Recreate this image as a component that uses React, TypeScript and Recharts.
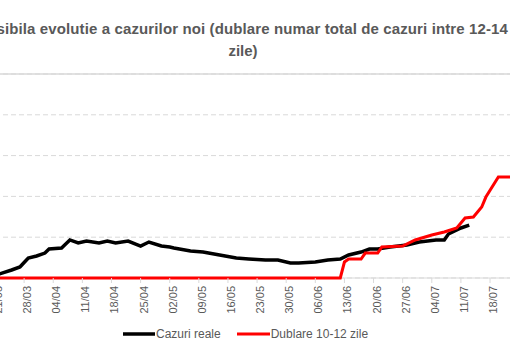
import { LineChart, Line, XAxis, YAxis, CartesianGrid, ReferenceLine } from 'recharts'

// day 0 = 21/03
const tickDays = [0, 7, 14, 21, 28, 35, 42, 49, 56, 63, 70, 77, 84, 91, 98, 105, 112, 119]
const tickLabels = [
  '21/03', '28/03', '04/04', '11/04', '18/04', '25/04', '02/05', '09/05', '16/05',
  '23/05', '30/05', '06/06', '13/06', '20/06', '27/06', '04/07', '11/07', '18/07',
]

const realDays = [0, 1, 4, 6, 7, 8, 10, 12, 13, 16, 17, 18, 20, 22, 25, 27, 29, 32, 35, 37, 40, 42, 43, 47, 50, 54, 58, 61, 65, 68, 71, 73, 77, 80, 83, 85, 88, 90, 92, 95, 99, 102, 106, 108, 109, 112, 114]
const realCases = [25, 49, 98, 135, 190, 245, 270, 306, 355, 368, 416, 466, 429, 453, 429, 453, 429, 453, 392, 441, 392, 380, 368, 331, 318, 282, 245, 233, 220, 220, 184, 184, 196, 220, 233, 282, 318, 355, 355, 380, 404, 441, 466, 466, 539, 613, 649]

const dblDays = [0, 83, 84, 85, 88, 89, 92, 93, 98, 101, 105, 108, 111, 113, 115, 117, 118, 121, 125]
const dblCases = [0, 0, 196, 233, 233, 306, 306, 380, 392, 466, 527, 564, 613, 735, 747, 870, 992, 1237, 1237]

const yTicks = [0, 500, 1000, 1500, 2000, 2500]

const realData = realDays.map((day, i) => ({ day, value: realCases[i] }))
const dblData = dblDays.map((day, i) => ({ day, value: dblCases[i] }))

const GRAY = '#595959'
const FONT = '"Liberation Sans", Arial, sans-serif'

function DateTick(props: any) {
  const { x, y, payload } = props
  const i = tickDays.indexOf(payload.value)
  return (
    <text
      x={0}
      y={0}
      transform={`translate(${x + 3},${y + 1}) rotate(-90)`}
      textAnchor="end"
      dominantBaseline="central"
      fontSize={11}
      fill={GRAY}
      fontFamily={FONT}
    >
      {tickLabels[i]}
    </text>
  )
}

export default function App() {
  return (
    <div style={{ position: 'absolute', left: 0, top: 0, width: 510, height: 360, overflow: 'hidden', background: '#fff', fontFamily: FONT }}>
      <div style={{ position: 'absolute', right: 2, top: 20, whiteSpace: 'nowrap', fontSize: 15, letterSpacing: 0.12, fontWeight: 700, color: GRAY }}>
        Posibila evolutie a cazurilor noi (dublare numar total de cazuri intre 12-14
      </div>
      <div style={{ position: 'absolute', left: 143, width: 200, textAlign: 'center', top: 42, fontSize: 15, fontWeight: 700, color: GRAY }}>
        zile)
      </div>

      <div style={{ position: 'absolute', left: -5, top: 0 }}>
        <LineChart width={520} height={360} margin={{ top: 74, right: 0, bottom: 52, left: 0 }}>
          <CartesianGrid vertical={false} stroke="#d9d9d9" strokeDasharray="5 3" />
          <ReferenceLine y={2500} stroke="#d9d9d9" strokeWidth={1.5} />
          <ReferenceLine y={0} stroke="#d9d9d9" strokeWidth={1} />
          <XAxis
            type="number"
            dataKey="day"
            domain={[0, 125]}
            ticks={tickDays}
            interval={0}
            allowDataOverflow
            height={30}
            axisLine={false}
            tickLine={{ stroke: '#d9d9d9' }}
            tickSize={5}
            tick={<DateTick />}
          />
          <YAxis hide domain={[0, 2500]} ticks={yTicks} width={0} />
          <Line
            data={realData}
            dataKey="value"
            type="linear"
            stroke="#000"
            strokeWidth={3.5}
            dot={false}
            isAnimationActive={false}
          />
          <Line
            data={dblData}
            dataKey="value"
            type="linear"
            stroke="#ff0000"
            strokeWidth={3}
            dot={false}
            isAnimationActive={false}
          />
        </LineChart>
      </div>

      <div style={{ position: 'absolute', top: 327, left: 123, display: 'flex', alignItems: 'center', fontSize: 12, color: GRAY }}>
        <svg width={32} height={8}><line x1={0} y1={4} x2={32} y2={4} stroke="#000" strokeWidth={3.5} strokeLinecap="round" /></svg>
        <span style={{ marginLeft: 1 }}>Cazuri reale</span>
        <svg width={33} height={8} style={{ marginLeft: 16 }}><line x1={0} y1={4} x2={33} y2={4} stroke="#ff0000" strokeWidth={3} /></svg>
        <span style={{ marginLeft: 1 }}>Dublare 10-12 zile</span>
      </div>
    </div>
  )
}
